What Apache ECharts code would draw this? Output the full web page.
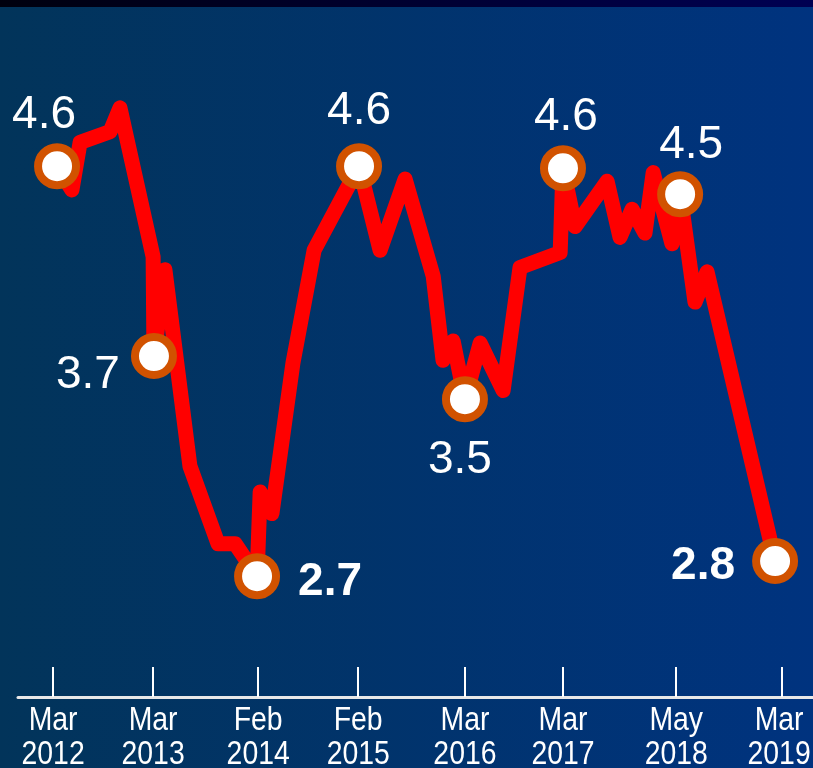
<!DOCTYPE html>
<html>
<head>
<meta charset="utf-8">
<script src="https://cdn.jsdelivr.net/npm/echarts@6/dist/echarts.min.js"></script>
<style>
  html, body { margin: 0; padding: 0; background: #01335a; }
  #chart { width: 813px; height: 768px; }
</style>
</head>
<body>
<div id="chart"></div>
<script>
// ---- Data ----
const dates = [
  '2012-03-01', '2012-04-23', '2012-05-22', '2012-09-06', '2012-10-11',
  '2013-02-06', '2013-02-09', '2013-03-20', '2013-06-17', '2013-09-25',
  '2013-11-25', '2014-02-11', '2014-02-22', '2014-04-05', '2014-06-19',
  '2014-09-02', '2015-02-09', '2015-04-25', '2015-07-23', '2015-10-31',
  '2015-12-05', '2016-01-10', '2016-02-21', '2016-04-15', '2016-07-06',
  '2016-09-04', '2017-01-25', '2017-02-04', '2017-03-19', '2017-07-11',
  '2017-08-26', '2017-10-08', '2017-11-23', '2017-12-22', '2018-02-27',
  '2018-03-28', '2018-05-20', '2018-07-02', '2019-03-01'
];
const values = [
  4.61, 4.50, 4.72, 4.77, 4.88,
  4.19, 3.73, 4.13, 3.22, 2.86,
  2.86, 2.71, 3.10, 3.00, 3.70,
  4.22, 4.61, 4.22, 4.55, 4.10,
  3.71, 3.80, 3.53, 3.79, 3.57,
  4.14, 4.21, 4.60, 4.33, 4.54,
  4.28, 4.41, 4.30, 4.58, 4.25,
  4.48, 3.98, 4.12, 2.78
];
// indices of the labelled observations
const highlightIndex = [0, 6, 11, 16, 22, 27, 35, 38];
// x-axis ticks and their labels
const tickDates = [
  '2012-02-16', '2013-02-06', '2014-02-15', '2015-02-06',
  '2016-02-21', '2017-02-04', '2018-03-14', '2019-03-26'
];
const tickLabels = [
  'Mar\n2012', 'Mar\n2013', 'Feb\n2014', 'Feb\n2015',
  'Mar\n2016', 'Mar\n2017', 'May\n2018', 'Mar\n2019'
];
const axisStart = '2011-10-14';
const axisEnd = '2019-07-14';
const yMin = 2.15;
const yMax = 5.0;

// ---- Styling of the highlight labels (offsets from marker centre, px) ----
const labelStyle = [
  { offset: [-13, -51], bold: false },
  { offset: [-66, 19], bold: false },
  { offset: [73, 6], bold: true },
  { offset: [0, -55], bold: false },
  { offset: [-5, 61], bold: false },
  { offset: [3, -51], bold: false },
  { offset: [11, -49], bold: false },
  { offset: [-72, 5], bold: true }
];

const parse = s => Date.UTC(+s.slice(0, 4), +s.slice(5, 7) - 1, +s.slice(8, 10));
const tickTimes = tickDates.map(parse);

const lineData = dates.map((d, i) => [parse(d), values[i]]);
const highlightData = highlightIndex.map((idx, k) => ({
  value: [parse(dates[idx]), values[idx]],
  label: {
    show: true,
    position: 'inside',
    offset: labelStyle[k].offset,
    align: 'center',
    verticalAlign: 'middle',
    formatter: p => p.value[1].toFixed(1),
    color: '#ffffff',
    fontFamily: '"Liberation Sans", Arial, sans-serif',
    fontSize: 46,
    fontWeight: labelStyle[k].bold ? 'bold' : 'normal'
  }
}));
const tickLabelData = tickTimes.map((t, i) => [t, yMin, i]);

const chart = echarts.init(document.getElementById('chart'), null, { renderer: 'canvas' });

const option = {
  animation: false,
  backgroundColor: 'transparent',
  graphic: [
    {
      type: 'rect', z: -10, silent: true,
      shape: { x: 0, y: 0, width: 813, height: 768 },
      style: {
        fill: new echarts.graphic.LinearGradient(0, 0, 1, 0, [
          { offset: 0, color: '#02345a' },
          { offset: 1, color: '#00337f' }
        ])
      }
    },
    {
      type: 'rect', z: -9, silent: true,
      shape: { x: 0, y: 0, width: 813, height: 7 },
      style: {
        fill: new echarts.graphic.LinearGradient(0, 0, 1, 0, [
          { offset: 0, color: '#00000e' },
          { offset: 1, color: '#000052' }
        ])
      }
    }
  ],
  grid: { left: 18, right: 0, top: 82, bottom: 71, containLabel: false },
  xAxis: {
    type: 'value',
    min: parse(axisStart),
    max: parse(axisEnd),
    splitLine: { show: false },
    axisLine: { show: true, lineStyle: { color: '#e8e8e8', width: 3 } },
    axisTick: {
      show: true, inside: true, length: 30,
      customValues: tickTimes,
      lineStyle: { color: '#ffffff', width: 2 }
    },
    axisLabel: { show: false }
  },
  yAxis: {
    type: 'value',
    min: yMin,
    max: yMax,
    show: false,
    splitLine: { show: false }
  },
  series: [
    {
      type: 'line',
      data: lineData,
      showSymbol: false,
      symbol: 'none',
      smooth: false,
      lineStyle: { color: '#ff0000', width: 15, cap: 'round', join: 'round' },
      z: 2
    },
    {
      type: 'scatter',
      data: highlightData,
      symbol: 'circle',
      symbolSize: 38,
      itemStyle: { color: '#ffffff', borderColor: '#d15200', borderWidth: 8, opacity: 1 },
      z: 3
    },
    {
      // condensed tick labels placed through the x scale
      type: 'custom',
      data: tickLabelData,
      silent: true,
      clip: false,
      z: 4,
      renderItem: function (params, api) {
        const p = api.coord([api.value(0), api.value(1)]);
        return {
          type: 'text',
          x: p[0] - (api.value(2) === tickLabels.length - 1 ? 3 : 0),
          y: p[1] + 7,
          scaleX: 0.86,
          style: {
            text: tickLabels[api.value(2)],
            fill: '#ffffff',
            fontFamily: '"Liberation Sans", Arial, sans-serif',
            fontSize: 33,
            lineHeight: 34,
            align: 'center',
            verticalAlign: 'top'
          }
        };
      }
    }
  ]
};
chart.setOption(option);
</script>
</body>
</html>
